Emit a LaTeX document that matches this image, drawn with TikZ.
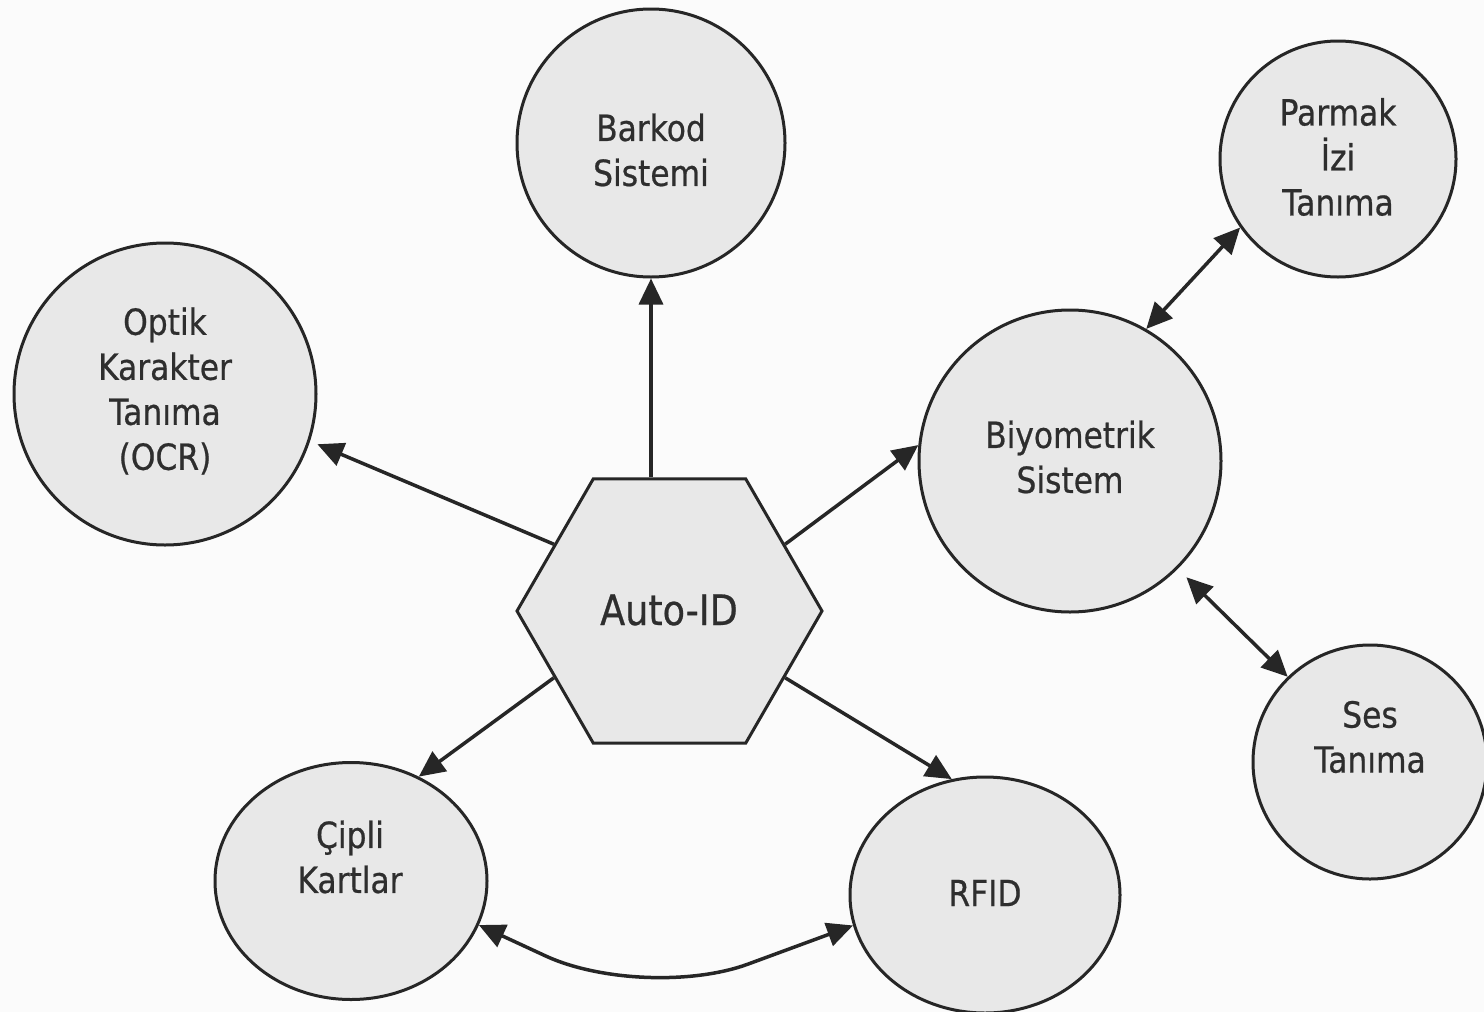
\documentclass[tikz,border=0pt]{standalone}
\usepackage{fontspec}
\setmainfont{DejaVu Sans}[FakeStretch=0.87,FakeBold=0.6]
\usetikzlibrary{shapes.geometric,arrows.meta,calc}
\definecolor{bgc}{HTML}{FBFBFB}
\definecolor{fillc}{HTML}{E8E8E8}
\definecolor{linec}{HTML}{262626}
\definecolor{textc}{HTML}{2E2E2E}
\tikzset{
  bub/.style={circle, draw=linec, fill=fillc, line width=3pt, inner sep=0pt},
  ebub/.style={ellipse, draw=linec, fill=fillc, line width=3pt, inner sep=0pt},
  hexa/.style={regular polygon, regular polygon sides=6, draw=linec, fill=fillc, line width=3pt, inner sep=0pt, minimum size=305pt},
  txt/.style={align=center, font=\fontsize{36}{45}\selectfont, text=textc, inner sep=0pt},
  arr/.style={line width=3.5pt, draw=linec, -{Triangle[length=26pt,width=24pt]}},
  darr/.style={line width=3.5pt, draw=linec, {Triangle[length=26pt,width=24pt]}-{Triangle[length=26pt,width=24pt]}},
}
\begin{document}
\begin{tikzpicture}[x=1pt,y=-1pt]
\fill[bgc] (0,0) rectangle (1484,1012);
\useasboundingbox (0,0) rectangle (1484,1012);

% shapes
\node[bub, minimum size=268pt] (bark) at (651,143) {};
\node[bub, minimum size=302pt] (ocr) at (165,394) {};
\node[bub, minimum size=236pt] (parm) at (1338,159) {};
\node[bub, minimum size=302pt] (biyo) at (1070,461) {};
\node[bub, minimum size=234pt] (ses) at (1370,762) {};
\node[ebub, minimum width=272pt, minimum height=237pt] (cip) at (351,881) {};
\node[ebub, minimum width=270pt, minimum height=236pt] (rfid) at (985,895) {};
\node[hexa] (hex) at (669.5,611) {};

% texts
\node[txt] (bark-t) at (651,150) {Barkod\\Sistemi};
\node[txt] (ocr-t) at (165,391) {Optik\\Karakter\\Tanıma\\(OCR)};
\node[txt] (parm-t) at (1338,157) {Parmak\\İzi\\Tanıma};
\node[txt] (biyo-t) at (1070,457) {Biyometrik\\Sistem};
\node[txt] (ses-t) at (1370,737) {Ses\\Tanıma};
\node[txt] (cip-t) at (350,857) {Çipli\\Kartlar};
\node[txt] (rfid-t) at (985,893) {RFID};
\node[txt, font=\fontsize{42}{50}\selectfont] (hex-t) at (669,610) {Auto-ID};

% connectors
\draw[arr] (hex.north -| bark.south) -- (bark.south);
\draw[arr, shorten >=8pt] (hex.150) -- (ocr.-18);
\draw[arr] (hex.30) -- (biyo.174);
\draw[arr] (hex.210) -- (cip.57);
\draw[arr] (hex.330) -- (rfid.106);
\draw[darr] (parm.215.6) -- (biyo.60.8);
\draw[darr, shorten <=12pt] (biyo.-45) -- (ses.134.7);
\coordinate (bend) at (645,1002);
\draw[darr, rounded corners=110pt] (cip.-19) -- (bend) -- (rfid.193);
\end{tikzpicture}
\end{document}
